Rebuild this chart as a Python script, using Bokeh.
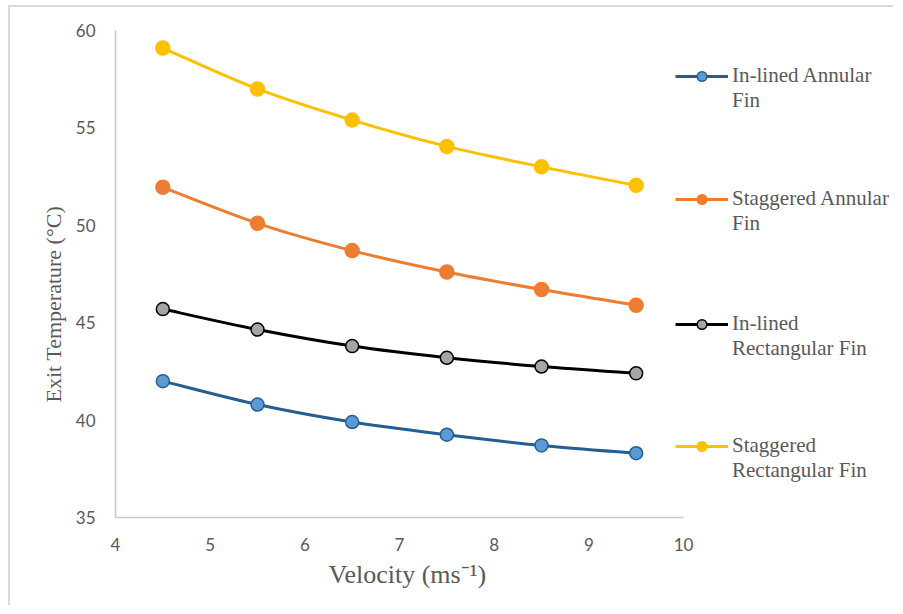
import numpy as np
from bokeh.plotting import figure
from bokeh.models import Legend, LegendItem, FixedTicker, ColumnDataSource, Range1d, Title
from bokeh.embed import file_html
from bokeh.resources import INLINE

velocity = [4.5, 5.5, 6.5, 7.5, 8.5, 9.5]
inlined_annular = [42.0, 40.8, 39.9, 39.25, 38.7, 38.3]
staggered_annular = [51.95, 50.1, 48.7, 47.6, 46.7, 45.9]
inlined_rect = [45.7, 44.65, 43.8, 43.2, 42.75, 42.4]
staggered_rect = [59.1, 57.0, 55.4, 54.05, 53.0, 52.05]

x_ticks = [4, 5, 6, 7, 8, 9, 10]
y_ticks = [35, 40, 45, 50, 55, 60]

series = [
    (("In-lined Annular", "Fin"), inlined_annular, "#255E91", "#5B9BD5", "#255E91", 13, 404),
    (("Staggered Annular", "Fin"), staggered_annular, "#ED7D31", "#ED7D31", "#ED7D31", 14, 281),
    (("In-lined", "Rectangular Fin"), inlined_rect, "#000000", "#A5A5A5", "#000000", 13, 156),
    (("Staggered", "Rectangular Fin"), staggered_rect, "#FFC000", "#FFC000", "#FFC000", 14, 34),
]


def smooth_segments(xs, ys):
    n = len(xs)
    d = dict(x0=[], y0=[], x1=[], y1=[], cx0=[], cy0=[], cx1=[], cy1=[])
    for i in range(n - 1):
        xp, yp = (xs[i - 1], ys[i - 1]) if i > 0 else (xs[i], ys[i])
        xn, yn = (xs[i + 2], ys[i + 2]) if i + 2 < n else (xs[i + 1], ys[i + 1])
        d["x0"].append(xs[i]); d["y0"].append(ys[i])
        d["x1"].append(xs[i + 1]); d["y1"].append(ys[i + 1])
        d["cx0"].append(xs[i] + (xs[i + 1] - xp) / 6.0)
        d["cy0"].append(ys[i] + (ys[i + 1] - yp) / 6.0)
        d["cx1"].append(xs[i + 1] - (xn - xs[i]) / 6.0)
        d["cy1"].append(ys[i + 1] - (yn - ys[i]) / 6.0)
    return ColumnDataSource(d)


W, H = 885, 600
ML, MR, MT, MB = 105, 5, 23, 90
AXIS_PX = 568  # pixel width of the 4..10 axis span
frame_w = W - ML - MR
x_end = 4 + 6 * frame_w / AXIS_PX

p = figure(width=W, height=H, output_backend="svg", toolbar_location=None,
           x_range=Range1d(4, x_end), y_range=Range1d(35, 60),
           min_border_left=ML, min_border_right=MR, min_border_top=MT,
           min_border_bottom=MB)
p.styles = {"position": "relative", "left": "10px", "top": "7px",
            "box-shadow": "-2px -2px 0px 0px #D9D9D9"}
p.outline_line_color = None
p.xgrid.visible = False
p.ygrid.visible = False
p.background_fill_color = "white"
p.border_fill_color = "white"

for ax in (p.xaxis[0], p.yaxis[0]):
    ax.axis_line_color = "#C8C8C8"
    ax.axis_line_width = 1.5
    ax.major_tick_line_color = None
    ax.minor_tick_line_color = None
    ax.major_label_text_font = "Lato"
    ax.major_label_text_font_size = "17px"
    ax.major_label_text_color = "#595959"

p.xaxis.ticker = FixedTicker(ticks=x_ticks)
p.yaxis.ticker = FixedTicker(ticks=y_ticks)
p.xaxis.bounds = (4, 10)
p.xaxis.major_label_standoff = 14
p.yaxis.major_label_standoff = 14

xtitle = Title(text="Velocity (ms\u207b\u00b9)", align="left", offset=213,
               text_font="Liberation Serif", text_font_size="26px",
               text_font_style="normal", text_color="#595959", standoff=9)
p.add_layout(xtitle, "below")
ytitle = Title(text="Exit Temperature (\u00b0C)", align="left", offset=115,
               text_font="Liberation Serif", text_font_size="22px",
               text_font_style="normal", text_color="#595959", standoff=14)
p.add_layout(ytitle, "left")

for (l1, l2), vals, lc, fc, oc, sz, ly in series:
    src = smooth_segments(velocity, vals)
    br = p.bezier(x0="x0", y0="y0", x1="x1", y1="y1", cx0="cx0", cy0="cy0",
                  cx1="cx1", cy1="cy1", source=src, line_color=lc, line_width=3)
    sr = p.scatter(velocity, vals, size=sz, fill_color=fc, line_color=oc,
                   line_width=1.5, marker="circle")
    blank = p.line(velocity, vals, line_alpha=0)
    legend = Legend(items=[LegendItem(label=l1, renderers=[br, sr]),
                           LegendItem(label=l2, renderers=[blank])],
                    location=(560, ly))
    legend.label_text_font = "Liberation Serif"
    legend.label_text_font_size = "21px"
    legend.label_text_color = "#595959"
    legend.glyph_width = 53
    legend.glyph_height = 24
    legend.label_height = 24
    legend.spacing = 0
    legend.padding = 0
    legend.margin = 0
    legend.border_line_color = None
    legend.background_fill_alpha = 0
    legend.label_standoff = 4
    p.add_layout(legend, "center")

open("out.html", "w").write(file_html(p, INLINE))
